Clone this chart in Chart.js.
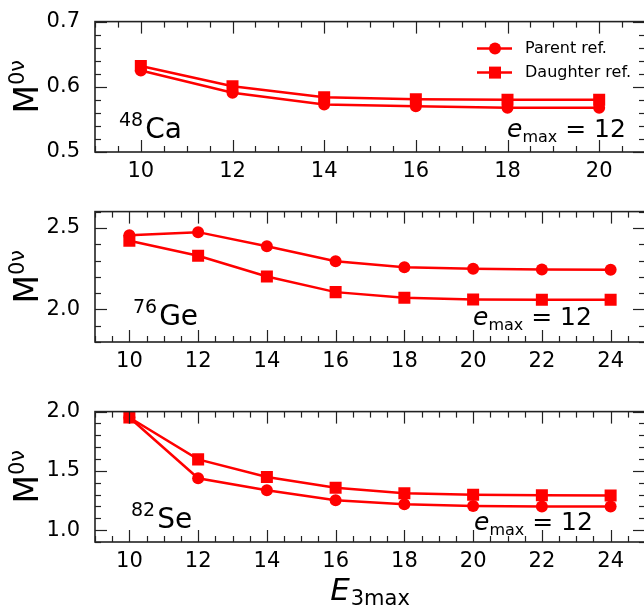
<!DOCTYPE html>
<html>
<head>
<meta charset="utf-8">
<script src="https://cdn.jsdelivr.net/npm/chart.js@4.4.0/dist/chart.umd.min.js"></script>
<style>
  html, body { margin: 0; padding: 0; background: #fff; overflow: hidden; width: 644px; height: 609px; }
  canvas { position: absolute; left: 0; }
</style>
</head>
<body>
<canvas id="ca" width="660" height="184" style="top:2px"></canvas>
<canvas id="ge" width="660" height="184" style="top:192px"></canvas>
<canvas id="se" width="660" height="217" style="top:392px"></canvas>
<script>
// E3max values
var xCa = [10, 12, 14, 16, 18, 20];
var xGeSe = [10, 12, 14, 16, 18, 20, 22, 24];

// M0v, 48Ca
var caParent = [0.625, 0.591, 0.573, 0.570, 0.568, 0.568];
var caDaughter = [0.632, 0.601, 0.584, 0.581, 0.580, 0.580];
// M0v, 76Ge
var geParent = [2.455, 2.474, 2.388, 2.296, 2.259, 2.249, 2.245, 2.243];
var geDaughter = [2.421, 2.329, 2.202, 2.106, 2.072, 2.061, 2.059, 2.059];
// M0v, 82Se
var seParent = [1.95, 1.438, 1.336, 1.252, 1.218, 1.204, 1.200, 1.200];
var seDaughter = [1.95, 1.597, 1.448, 1.357, 1.311, 1.298, 1.295, 1.293];

// tick labels
var caYTicks = [0.5, 0.6, 0.7];
var geYTicks = [2.0, 2.5];
var seYTicks = [1.0, 1.5, 2.0];

var FONT = 'DejaVu Sans';
var RED = '#ff0000';

function pts(xs, ys) {
  return xs.map(function (x, i) { return { x: x, y: ys[i] }; });
}

function drawParts(ctx, x, y, parts) {
  parts.forEach(function (p) {
    ctx.font = p.font;
    ctx.fillText(p.t, x, y + (p.dy || 0));
    x += ctx.measureText(p.t).width + (p.gap || 0);
  });
}
function partsWidth(ctx, parts) {
  var w = 0;
  parts.forEach(function (p) { ctx.font = p.font; w += ctx.measureText(p.t).width + (p.gap || 0); });
  return w;
}

// frame, inward ticks on all four sides, labels drawn on the canvas
function makeDecor(o) {
  return {
    id: 'decor',
    afterDraw: function (chart) {
      var ctx = chart.ctx, a = chart.chartArea, x = chart.scales.x, y = chart.scales.y;
      function seg(x1, y1, x2, y2) { ctx.beginPath(); ctx.moveTo(x1, y1); ctx.lineTo(x2, y2); ctx.stroke(); }
      ctx.save();
      ctx.strokeStyle = '#222';
      ctx.lineWidth = 1.2;
      var n = Math.round((o.xMax - 9) / o.xMinor);
      for (var i = 0; i <= n; i++) {
        var v = 9 + i * o.xMinor;
        var px = Math.round(x.getPixelForValue(v)) + 0.5;
        var r = v / o.xMajor, len = Math.abs(r - Math.round(r)) < 1e-6 ? 12 : 6;
        seg(px, a.bottom, px, a.bottom - len);
        seg(px, a.top, px, a.top + len);
      }
      n = Math.round((o.yMax - o.yMin) / o.yMinor);
      for (i = 0; i <= n; i++) {
        v = o.yMin + i * o.yMinor;
        var py = Math.round(y.getPixelForValue(v)) + 0.5;
        r = v / o.yMajor; len = Math.abs(r - Math.round(r)) < 1e-6 ? 12 : 6;
        seg(a.left, py, a.left + len, py);
        seg(a.right, py, a.right - len, py);
      }
      ctx.lineWidth = 1.6;
      ctx.strokeRect(a.left, a.top, a.right - a.left, a.bottom - a.top);

      ctx.fillStyle = '#000';
      ctx.textAlign = 'left';
      ctx.textBaseline = 'alphabetic';
      // isotope label
      drawParts(ctx, a.left + o.isoX, a.bottom - o.isoY, [
        { t: o.iso[0], font: '19px ' + FONT, dy: -12, gap: 2 },
        { t: o.iso[1], font: '28px ' + FONT }
      ]);
      // e_max = 12
      drawParts(ctx, a.left + o.emX, a.bottom - o.emY, [
        { t: 'e', font: 'italic 25px ' + FONT },
        { t: 'max', font: '16px ' + FONT, dy: 5 },
        { t: ' = 12', font: '25px ' + FONT }
      ]);
      // y title M^0v
      var yt = [
        { t: 'M', font: '33px ' + FONT },
        { t: '0\u03bd', font: '21px ' + FONT, dy: -14 }
      ];
      ctx.save();
      ctx.translate(38, (a.top + a.bottom) / 2);
      ctx.rotate(-Math.PI / 2);
      drawParts(ctx, -partsWidth(ctx, yt) / 2, 0, yt);
      ctx.restore();
      // x title E_3max
      if (o.xTitle) {
        var xt = [
          { t: 'E', font: 'italic 31px ' + FONT, gap: 1 },
          { t: '3max', font: '21px ' + FONT, dy: 5 }
        ];
        drawParts(ctx, (a.left + a.right) / 2 - partsWidth(ctx, xt) / 2, a.bottom + 58, xt);
      }
      // legend
      if (o.legend) {
        ctx.textBaseline = 'middle';
        chart.data.datasets.forEach(function (ds, k) {
          var ly = a.top + 27 + k * 24;
          ctx.strokeStyle = RED;
          ctx.lineWidth = 2.5;
          seg(a.right - 168, ly, a.right - 133, ly);
          ctx.fillStyle = RED;
          if (ds.pointStyle === 'rect') {
            ctx.fillRect(a.right - 156, ly - 6, 12, 12);
          } else {
            ctx.beginPath(); ctx.arc(a.right - 150, ly, 6, 0, Math.PI * 2); ctx.fill();
          }
          ctx.fillStyle = '#000';
          ctx.font = '16px ' + FONT;
          ctx.fillText(ds.label, a.right - 120, ly);
        });
      }
      ctx.restore();
    }
  };
}

function makeChart(id, xs, parent, daughter, yTicks, o, xHeight) {
  var ctx = document.getElementById(id).getContext('2d');
  return new Chart(ctx, {
    type: 'line',
    data: {
      datasets: [{
        label: 'Parent ref.',
        data: pts(xs, parent),
        borderColor: RED,
        backgroundColor: RED,
        borderWidth: 2.5,
        pointStyle: 'circle',
        pointRadius: 6,
        pointBorderWidth: 0
      }, {
        label: 'Daughter ref.',
        data: pts(xs, daughter),
        borderColor: RED,
        backgroundColor: RED,
        borderWidth: 2.5,
        pointStyle: 'rect',
        pointRadius: 8.5,
        pointBorderWidth: 0
      }]
    },
    options: {
      responsive: false,
      devicePixelRatio: 1,
      animation: false,
      layout: { padding: { top: 14, right: 15, left: 0, bottom: 0 } },
      plugins: { legend: { display: false }, tooltip: { enabled: false } },
      scales: {
        x: {
          type: 'linear', min: 9, max: o.xMax,
          grid: { display: false },
          border: { display: false },
          afterBuildTicks: function (s) { s.ticks = xs.map(function (v) { return { value: v }; }); },
          afterFit: function (s) { s.height = xHeight; s.paddingLeft = 0; s.paddingRight = 0; },
          ticks: { color: '#000', padding: -1, font: { family: FONT, size: 21 }, maxRotation: 0,
            callback: function (v) { return String(v); } }
        },
        y: {
          min: o.yMin, max: o.yMax,
          grid: { display: false },
          border: { display: false },
          afterBuildTicks: function (s) { s.ticks = yTicks.map(function (v) { return { value: v }; }); },
          afterFit: function (s) { s.width = 95; },
          ticks: { color: '#000', padding: 7, font: { family: FONT, size: 21 },
            callback: function (v) { return v.toFixed(1); } }
        }
      }
    },
    plugins: [makeDecor(o)]
  });
}

makeChart('ca', xCa, caParent, caDaughter, caYTicks,
  { xMax: 21, yMin: 0.5, yMax: 0.7, xMinor: 0.5, xMajor: 2, yMinor: 0.02, yMajor: 0.1,
    iso: ['48', 'Ca'], isoX: 24, isoY: 14, emX: 412, emY: 15, legend: true }, 34);
makeChart('ge', xGeSe, geParent, geDaughter, geYTicks,
  { xMax: 25, yMin: 1.8, yMax: 2.6, xMinor: 0.5, xMajor: 2, yMinor: 0.1, yMajor: 0.5,
    iso: ['76', 'Ge'], isoX: 38, isoY: 17, emX: 378, emY: 17 }, 34);
makeChart('se', xGeSe, seParent, seDaughter, seYTicks,
  { xMax: 25, yMin: 0.9, yMax: 2.0, xMinor: 0.5, xMajor: 2, yMinor: 0.1, yMajor: 0.5,
    iso: ['82', 'Se'], isoX: 36, isoY: 14, emX: 379, emY: 12, xTitle: true }, 67);
</script>
</body>
</html>
